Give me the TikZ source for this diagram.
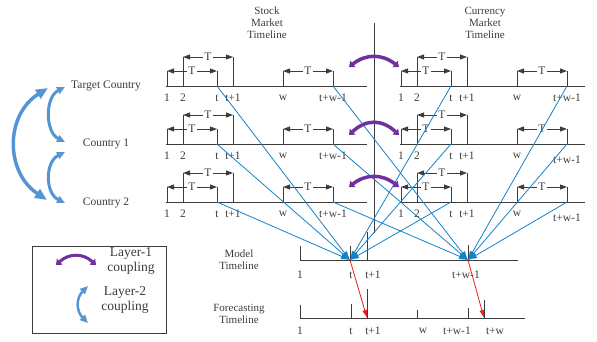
\documentclass[tikz,border=0pt]{standalone}
\usepackage{fontspec}
\setmainfont{Liberation Serif}
\usetikzlibrary{arrows.meta}
\definecolor{lineGray}{RGB}{60,60,60}
\definecolor{linkBlue}{RGB}{20,130,200}
\definecolor{layerOne}{RGB}{112,48,160}
\definecolor{layerTwo}{RGB}{84,150,212}
\definecolor{forecastRed}{RGB}{235,30,35}

\begin{document}
\begin{tikzpicture}
[x=1pt,y=-1pt,
  axisDecorate/.style={draw=lineGray,line width=1pt},
  tickDecorate/.style={draw=lineGray,line width=0.9pt},
  spanDecorate/.style={draw=lineGray,line width=0.9pt,
    {Triangle[length=7pt,width=5pt]}-{Triangle[length=7pt,width=5pt]}},
  labelDecorate/.style={font=\fontsize{11.5}{12}\selectfont,text=lineGray,inner sep=0pt},
  titleDecorate/.style={font=\fontsize{11}{12}\selectfont,text=lineGray,align=center,inner sep=0pt},
  legendDecorate/.style={font=\fontsize{13.5}{15}\selectfont,text=lineGray,align=center,inner sep=0pt},
  linkDecorate/.style={draw=linkBlue,line width=0.8pt,-{Latex[length=9pt,width=6pt]}},
  forecastDecorate/.style={draw=forecastRed,line width=0.8pt,-{Latex[length=8pt,width=5pt]}},
  layerOneDecorate/.style={draw=layerOne,line width=3.5pt,
    {Triangle[length=5pt,width=8pt]}-{Triangle[length=5pt,width=8pt]}},
  layerTwoDecorate/.style={draw=layerTwo,line width=3pt,
    {Triangle[length=8pt,width=7pt]}-{Triangle[length=8pt,width=7pt]}}]
\useasboundingbox (0,0) rectangle (597,341);

%% titles
\node[titleDecorate] (stockTitle) at (267,23) {Stock\\Market\\Timeline};
\node[titleDecorate] (currencyTitle) at (485,23) {Currency\\Market\\Timeline};
\node[titleDecorate] (modelTitle) at (239,260) {Model\\Timeline};
\node[titleDecorate] (forecastTitle) at (239,314) {Forecasting\\Timeline};

%% divider between the two markets
\coordinate (divTop) at (374,23);
\coordinate (divBottom) at (374,233);
\draw[axisDecorate] (divTop) -- (divBottom);

%% stock and currency timelines, one per country
\foreach \mk/\dx/\len/\r/\y/\vdy in {
  s/0/367/1/86/0, s/0/367/2/144/0, s/0/367/3/202/0,
  c/234/351/1/86/0, c/234/351/2/144/4, c/234/351/3/202/4}
{
  \coordinate (\mk\r_start) at (166+\dx,\y);
  \coordinate (\mk\r_end) at (\len+\dx,\y);
  \draw[axisDecorate] (\mk\r_start) -- (\mk\r_end);
  \foreach \tk/\x/\txt/\ldy in {
    a/167/1/0, b/183/2/0, t/217/t/0, u/233/t+1/0, w/283/w/0, v/333/t+w-1/\vdy}
  {
    \coordinate (\mk\r_\tk) at (\x+\dx,\y);
    \node[labelDecorate] (\mk\r_\tk_lab) at (\x+\dx,\y+12+\ldy) {\txt};
  }
  \foreach \p/\q/\h in {a/t/15, b/u/29, w/v/15}
  {
    \draw[tickDecorate] (\mk\r_\p) -- ++(0,-\h) coordinate (\mk\r_\p\q_l);
    \draw[tickDecorate] (\mk\r_\q) -- ++(0,-\h) coordinate (\mk\r_\p\q_r);
    \draw[spanDecorate] (\mk\r_\p\q_l) --
      node[labelDecorate,fill=white,inner xsep=1.5pt] (\mk\r_\p\q_T) {T} (\mk\r_\p\q_r);
  }
}

%% model timeline
\draw[axisDecorate] (300,260) coordinate (m_start) -- (518,260) coordinate (m_end);
\foreach \tk/\x/\h/\txt/\lx in {a/300/14/1/300, t/350/14/t/351, u/367/28/t+1/373, v/468/15/t+w-1/466}
{
  \coordinate (m_\tk) at (\x,260);
  \draw[tickDecorate] (m_\tk) -- ++(0,-\h);
  \node[labelDecorate] (m_\tk_lab) at (\lx,275) {\txt};
}

%% forecasting timeline
\draw[axisDecorate] (300,318) coordinate (f_start) -- (525,318) coordinate (f_end);
\foreach \tk/\x/\h/\txt/\lx in {a/300/13/1/300, t/351/14/t/351, u/367/29/t+1/373,
  w/417/8/w/423, v/468/10/t+w-1/457, x/484/18/t+w/495}
{
  \coordinate (f_\tk) at (\x,318);
  \draw[tickDecorate] (f_\tk) -- ++(0,-\h);
  \node[labelDecorate] (f_\tk_lab) at (\lx,331) {\txt};
}

%% links into the model timeline
\foreach \src/\dst in {
  s1_t/m_t, s2_t/m_t, s3_t/m_t, c1_t/m_t, c2_t/m_t, c3_t/m_t,
  s1_v/m_v, s2_v/m_v, s3_v/m_v, c1_v/m_v, c2_v/m_v, c3_v/m_v}
{
  \draw[linkDecorate] (\src) -- (\dst);
}

%% forecasts
\draw[forecastDecorate] (m_t) -- (f_u);
\draw[forecastDecorate] (m_v) -- (f_x);

%% layer-1 coupling between markets
\foreach \r/\ye/\yt in {1/67/57, 2/135/123, 3/187/177}
{
  \coordinate (l1_\r_a) at (349,\ye);
  \coordinate (l1_\r_b) at (399,\ye);
  \draw[layerOneDecorate] (l1_\r_a) .. controls (366,{(4*\yt-\ye)/3})
    and (382,{(4*\yt-\ye)/3}) .. (l1_\r_b);
}

%% countries and layer-2 coupling
\node[labelDecorate] (target) at (106,86) {Target Country};
\node[labelDecorate] (country1) at (106,144) {Country 1};
\node[labelDecorate] (country2) at (106,203) {Country 2};
\coordinate (bigTop) at (48,88);
\coordinate (bigBottom) at (47,200);
\draw[layerTwoDecorate,line width=3.5pt,
  {Triangle[length=12pt,width=10pt]}-{Triangle[length=12pt,width=10pt]}]
  (bigTop) .. controls (5,115) and (5,172) .. (bigBottom);
\coordinate (oneTop) at (65,87);
\coordinate (oneBottom) at (65,142);
\draw[layerTwoDecorate] (oneTop) .. controls (45,97) and (45,132) .. (oneBottom);
\coordinate (twoTop) at (65,152);
\coordinate (twoBottom) at (65,203);
\draw[layerTwoDecorate] (twoTop) .. controls (45,162) and (45,193) .. (twoBottom);

%% legend
\draw[axisDecorate] (32,246) rectangle (166,333);
\coordinate (legOneA) at (56,265);
\coordinate (legOneB) at (96,265);
\draw[layerOneDecorate,line width=3pt] (legOneA) .. controls (69,253) and (83,253) .. (legOneB);
\node[legendDecorate] (legOneText) at (131,261) {Layer-1\\coupling};
\coordinate (legTwoA) at (88,286);
\coordinate (legTwoB) at (88,323);
\draw[layerTwoDecorate,line width=2.5pt] (legTwoA) .. controls (76,298) and (76,311) .. (legTwoB);
\node[legendDecorate] (legTwoText) at (125,300) {Layer-2\\coupling};
\end{tikzpicture}
\end{document}
